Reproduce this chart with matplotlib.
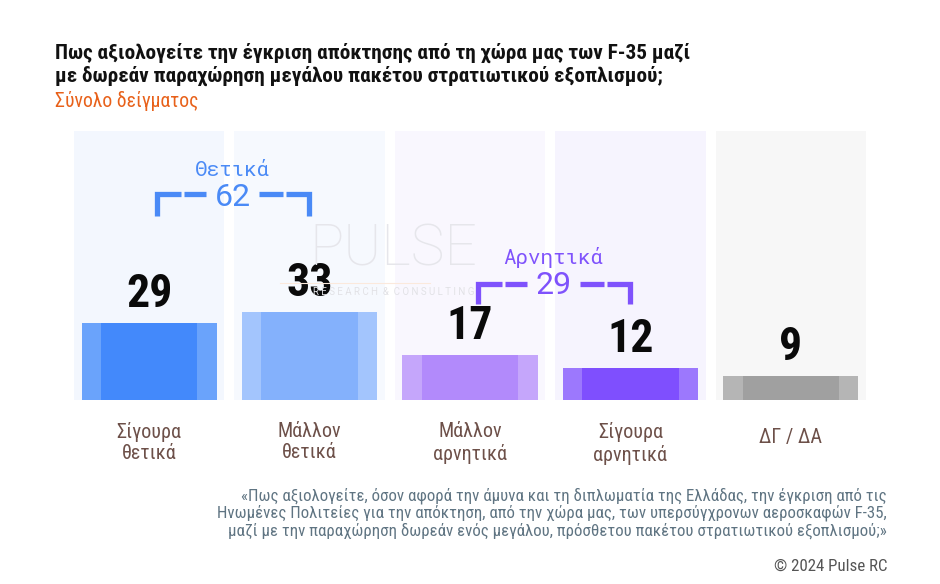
import numpy as np
import matplotlib
matplotlib.use("Agg")
import matplotlib.pyplot as plt
from matplotlib import font_manager

# ---- data -----------------------------------------------------------------
categories = ["Σίγουρα\nθετικά", "Μάλλον\nθετικά", "Μάλλον\nαρνητικά",
              "Σίγουρα\nαρνητικά", "ΔΓ / ΔΑ"]
values = [29, 33, 17, 12, 9]
groups = [("Θετικά", [0, 1]), ("Αρνητικά", [2, 3])]

title = ("Πως αξιολογείτε την έγκριση απόκτησης από τη χώρα μας των F-35 μαζί\n"
         "με δωρεάν παραχώρηση μεγάλου πακέτου στρατιωτικού εξοπλισμού;")
subtitle = "Σύνολο δείγματος"
footnote = ("«Πως αξιολογείτε, όσον αφορά την άμυνα και τη διπλωματία της Ελλάδας, την έγκριση από τις\n"
            "Ηνωμένες Πολιτείες για την απόκτηση, από την χώρα μας, των υπερσύγχρονων αεροσκαφών F-35,\n"
            "μαζί με την παραχώρηση δωρεάν ενός μεγάλου, πρόσθετου πακέτου στρατιωτικού εξοπλισμού;»")
credit = "© 2024 Pulse RC"

# ---- style ----------------------------------------------------------------
outer_cols = ["#6aa3fb", "#a3c5fd", "#c5a6fb", "#9c78fd", "#b5b5b5"]
inner_cols = ["#4389fb", "#84b1fc", "#b28afb", "#7f4ffe", "#a0a0a0"]
bg_cols = ["#f3f7fe", "#f6f9fe", "#f9f7fe", "#f6f4fe", "#f7f7f7"]
group_cols = ["#4a8af6", "#7f52fc"]
group_y = [(77.2, 69.0, 76.0, 86.0), (43.4, 36.0, 43.0, 53.5)]  # bracket top, bottom, total, label


def pick(cands, need_bold=False):
    fl = font_manager.fontManager.ttflist
    for c in cands:
        ws = [f.weight for f in fl if f.name == c]
        if ws and (not need_bold or any(w >= 600 for w in ws)):
            return c
    return "DejaVu Sans"


NARROW = pick(["Roboto Condensed", "Fira Sans Condensed", "Asap Condensed"], need_bold=True)
MONO = pick(["Roboto Mono", "Fira Mono", "DejaVu Sans Mono"])
plt.rcParams["font.family"] = [NARROW, "DejaVu Sans"]

W, H = 940, 584
fig = plt.figure(figsize=(W / 100, H / 100), dpi=100)
fig.patch.set_facecolor("white")

# axes: baseline at y=400px, columns from x=74 to 866 px, pitch 160 px
PX_PER_UNIT = 2.67
ax_l, ax_r, ax_b, ax_t = 74, 866, 400, 131
ax = fig.add_axes([ax_l / W, 1 - ax_b / H, (ax_r - ax_l) / W, (ax_b - ax_t) / H])
n = len(values)
x = np.arange(n)
ax.set_xlim(-0.46875, n - 1 + 0.46875)
ymax = (ax_b - ax_t) / PX_PER_UNIT
ax.set_ylim(0, ymax)
ax.axis("off")

# faint watermark (behind the numbers)
fig.text(393 / W, 1 - 250 / H, "PULSE", ha="center", va="center", fontsize=41,
         color="#e6e6eb", family=["Roboto", "DejaVu Sans"], fontweight="light", zorder=3)
fig.text(394 / W, 1 - 292 / H, "R E S E A R C H  &  C O N S U L T I N G", ha="center",
         va="center", fontsize=7, color="#e2e2e6", family=["Roboto", "DejaVu Sans"], zorder=3)
fig.add_artist(plt.Line2D([280 / W, 430 / W], [1 - 283 / H, 1 - 283 / H],
                          color="#fbe9dc", lw=0.8, zorder=3))

ax.bar(x, ymax, width=150 / 160, color=bg_cols, zorder=0)
ax.bar(x, values, width=135 / 160, color=outer_cols, zorder=1)
ax.bar(x, values, width=96 / 160, color=inner_cols, zorder=2)

for xi, v in zip(x, values):
    ax.text(xi, v + 2.6, f"{v}", ha="center", va="bottom", fontsize=33,
            fontweight="bold", color="#0a0a0a", zorder=5)

for xi, lab in zip(x, categories):
    ytop = -8.3 if "\n" in lab else -10.5
    ax.text(xi, ytop, lab, ha="center", va="top", fontsize=14.5,
            color="#6d5049", linespacing=1.15, clip_on=False)

# group brackets
px = 1 / 160
for (glabel, members), col, (yt, yb, ytot, ylab) in zip(groups, group_cols, group_y):
    total = sum(values[i] for i in members)
    m = (x[members[0]] + x[members[-1]]) / 2 + 3.5 * px
    xl, xr = m - 76 * px, m + 76 * px
    kw = dict(color=col, lw=3.8, solid_capstyle="butt", solid_joinstyle="miter", zorder=4)
    ax.plot([xl, xl, m - 52 * px], [yb, yt, yt], **kw)
    ax.plot([m - 49 * px, m - 26.5 * px], [yt, yt], **kw)
    ax.plot([m + 26.5 * px, m + 50 * px], [yt, yt], **kw)
    ax.plot([m + 53 * px, xr, xr], [yt, yt, yb], **kw)
    ax.text(m, ytot, f"{total}", ha="center", va="center", fontsize=23,
            color=col, family=["Roboto", "DejaVu Sans"], zorder=5)
    ax.text(m, ylab, glabel, ha="center", va="center", fontsize=15,
            color=col, family=[MONO, "DejaVu Sans Mono"], zorder=5)

# titles
fig.text(55 / W, 1 - 43 / H, title, ha="left", va="top", fontsize=15.3,
         fontweight="bold", color="#111111", linespacing=1.17)
fig.text(55 / W, 1 - 101 / H, subtitle, ha="left", va="center", fontsize=14.2,
         color="#e8611a")

fig.text(887 / W, 1 - 513 / H, footnote, ha="right", va="center", fontsize=12.2,
         color="#5f7482", linespacing=1.08)
fig.text(887 / W, 1 - 566 / H, credit, ha="right", va="center", fontsize=12.2,
         color="#555555")

fig.savefig("out.png", dpi=100, facecolor="white")
